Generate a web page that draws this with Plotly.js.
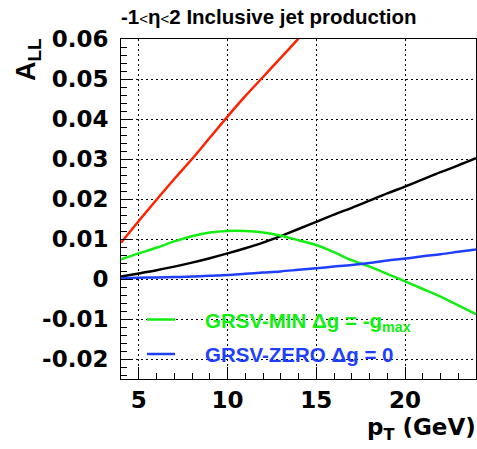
<!DOCTYPE html>
<html>
<head>
<meta charset="utf-8">
<script src="https://cdn.plot.ly/plotly-3.0.1.min.js"></script>
<style>html,body{margin:0;padding:0;background:#fff;}</style>
</head>
<body>
<div id="chart" style="width:477px;height:449px;"></div>
<script>
// pT values (GeV)
const ptRed = [4,5,6,7,8,9,10,11,12,13,14];
const allRed = [0.0091,0.0145,0.0198,0.0250,0.0300,0.0353,0.0406,0.0457,0.0505,0.0553,0.0601];

const pt = [4,5,6,7,8,9,10,11,12,13,14,15,16,17,18,19,20,21,22,23,24];
const allBlack = [0.0006,0.0014,0.0022,0.0031,0.0041,0.0052,0.0064,0.0077,0.0091,0.0107,0.0125,0.0143,0.0161,0.0178,0.0196,0.0214,0.0231,0.0249,0.0267,0.0284,0.0302];
const allMin = [0.0049,0.0064,0.0078,0.0094,0.0107,0.0116,0.0120,0.0120,0.0116,0.0108,0.0097,0.0085,0.0067,0.0047,0.0031,0.0013,-0.0006,-0.0025,-0.0044,-0.0066,-0.0088];
const allZero = [0.0002,0.0003,0.0004,0.0005,0.0006,0.0008,0.0010,0.0013,0.0016,0.0019,0.0023,0.0027,0.0031,0.0035,0.0040,0.0046,0.0051,0.0057,0.0062,0.0068,0.0074];

const xTicks = [5,10,15,20];
const yTicks = [-0.02,-0.01,0,0.01,0.02,0.03,0.04,0.05,0.06];
const yTickText = ['-0.02','-0.01','0','0.01','0.02','0.03','0.04','0.05','0.06'];

const legendNames = ['GRSV-MIN \u0394g = -g<sub>max</sub>', 'GRSV-ZERO \u0394g = 0'];

const RED = '#ff2200', BLACK = '#000000', GREEN = '#11ee11', BLUE = '#1f3fff';
const LW = 2.5;

const traces = [
  {x: ptRed, y: allRed, mode: 'lines', line: {color: RED, width: LW, shape: 'spline'}, showlegend: false},
  {x: pt, y: allBlack, mode: 'lines', line: {color: BLACK, width: LW, shape: 'spline'}, showlegend: false},
  {x: pt, y: allMin, mode: 'lines', line: {color: GREEN, width: LW, shape: 'spline'}, showlegend: false},
  {x: pt, y: allZero, mode: 'lines', line: {color: BLUE, width: LW, shape: 'spline'}, showlegend: false}
];

const tickFont = {family: 'DejaVu Sans', size: 23, color: '#000', weight: 'bold'};
const W = 355, H = 340, L = 121, B = 379;
const px = v => (v - L) / W;
const py = v => (B - v) / H;

const layout = {
  width: 477, height: 449,
  margin: {l: 121, r: 1, t: 39, b: 70, pad: 0},
  paper_bgcolor: '#fff', plot_bgcolor: '#fff',
  showlegend: false,
  xaxis: {
    range: [4, 24], tickvals: xTicks, ticktext: xTicks.map(String),
    ticks: 'inside', ticklen: 12, tickwidth: 1, tickcolor: '#000',
    showline: true, linecolor: '#000', linewidth: 1, mirror: true,
    showgrid: true, gridcolor: '#000', gridwidth: 1, griddash: '2px,3px',
    zeroline: false, tickfont: tickFont, ticklabelstandoff: 0,
    minor: {dtick: 1, tick0: 0, ticks: 'inside', ticklen: 6, tickcolor: '#000', tickwidth: 1, showgrid: false}
  },
  yaxis: {
    range: [-0.025, 0.06], tickvals: yTicks, ticktext: yTickText,
    ticks: 'inside', ticklen: 12, tickwidth: 1, tickcolor: '#000',
    showline: true, linecolor: '#000', linewidth: 1, mirror: true,
    showgrid: true, gridcolor: '#000', gridwidth: 1, griddash: '2px,3px',
    zeroline: false, tickfont: tickFont, ticklabelstandoff: 7,
    minor: {dtick: 0.002, tick0: 0, ticks: 'inside', ticklen: 6, tickcolor: '#000', tickwidth: 1, showgrid: false}
  },
  shapes: [
    {type: 'line', xref: 'paper', yref: 'paper', x0: px(147), x1: px(175), y0: py(319.5), y1: py(319.5), line: {color: GREEN, width: LW}},
    {type: 'line', xref: 'paper', yref: 'paper', x0: px(147), x1: px(175), y0: py(354), y1: py(354), line: {color: BLUE, width: LW}}
  ],
  annotations: [
    {xref: 'paper', yref: 'paper', x: px(119), y: py(16), xanchor: 'left', yanchor: 'middle', showarrow: false,
     text: '-1<span style="font-size:15px;font-weight:normal">&lt;</span>\u03b7<span style="font-size:15px;font-weight:normal">&lt;</span>2 Inclusive jet production',
     font: {family: 'Liberation Sans', size: 20.5, color: '#000', weight: 'bold'}},
    {xref: 'paper', yref: 'paper', x: px(28), y: py(60), xanchor: 'center', yanchor: 'middle', textangle: -90, showarrow: false,
     text: 'A<sub>LL</sub>', font: {family: 'Liberation Sans', size: 27, color: '#000', weight: 'bold'}},
    {xref: 'paper', yref: 'paper', x: px(478), y: py(429), xanchor: 'right', yanchor: 'middle', showarrow: false,
     text: 'p<sub>T</sub> (GeV)', font: {family: 'DejaVu Sans', size: 23, color: '#000', weight: 'bold'}},
    {xref: 'paper', yref: 'paper', x: px(203), y: py(322), xanchor: 'left', yanchor: 'middle', showarrow: false,
     text: legendNames[0], font: {family: 'Liberation Sans', size: 20.5, color: GREEN, weight: 'bold'}},
    {xref: 'paper', yref: 'paper', x: px(203), y: py(354), xanchor: 'left', yanchor: 'middle', showarrow: false,
     text: legendNames[1], font: {family: 'Liberation Sans', size: 20.5, color: BLUE, weight: 'bold'}}
  ]
};

Plotly.newPlot('chart', traces, layout, {staticPlot: true, displayModeBar: false});
</script>
</body>
</html>
